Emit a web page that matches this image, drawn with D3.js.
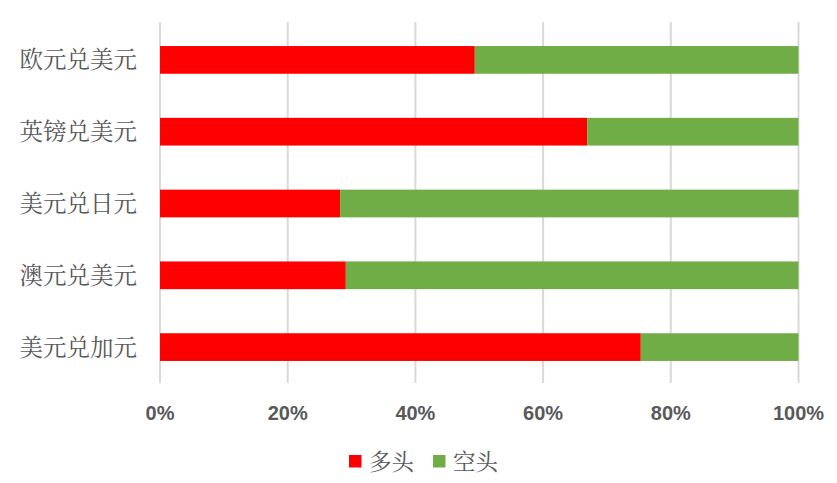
<!DOCTYPE html>
<html><head><meta charset="utf-8">
<script src="https://cdn.jsdelivr.net/npm/d3@7"></script>
<style>body{margin:0;background:#fff}</style>
</head><body>
<script>
const categories = ["欧元兑美元","英镑兑美元","美元兑日元","澳元兑美元","美元兑加元"];
const longValues = [49.3, 66.9, 28.2, 29.1, 75.3];
const shortValues = [50.7, 33.1, 71.8, 70.9, 24.7];
const seriesNames = ["多头","空头"];
const seriesColors = ["#FF0000","#70AD47"];
const tickValues = [0,20,40,60,80,100];

const W=837,H=483;
const svg=d3.select("body").append("svg").attr("width",W).attr("height",H);
const x=d3.scaleLinear().domain([0,100]).range([160,798.5]);
const y=d3.scaleBand().domain(categories).range([24,383]).paddingInner(0.614).paddingOuter(0.307);

// gridlines
svg.append("g").selectAll("line").data(tickValues).join("line")
  .attr("x1",d=>x(d)).attr("x2",d=>x(d)).attr("y1",22).attr("y2",383)
  .attr("stroke","#d9d9d9").attr("stroke-width",2);

const data=categories.map((c,i)=>({c,a:longValues[i],b:shortValues[i]}));
const g=svg.append("g");
g.selectAll(".r").data(data).join("rect")
  .attr("x",x(0)).attr("y",d=>y(d.c)).attr("width",d=>x(d.a)-x(0)).attr("height",y.bandwidth())
  .attr("fill",seriesColors[0]);
g.selectAll(".gr").data(data).join("rect")
  .attr("x",d=>x(d.a)).attr("y",d=>y(d.c)).attr("width",d=>x(d.a+d.b)-x(d.a)).attr("height",y.bandwidth())
  .attr("fill",seriesColors[1]);

// category labels
svg.append("g").selectAll("text").data(categories).join("text")
  .attr("x",137).attr("y",d=>y(d)+y.bandwidth()/2).attr("dy","0.36em")
  .attr("text-anchor","end").attr("fill","#595959")
  .style("font-family","'Noto Serif CJK SC','Noto Sans CJK SC',sans-serif").style("font-size","23.5px")
  .text(d=>d);

// x tick labels
svg.append("g").selectAll("text").data(tickValues).join("text")
  .attr("x",d=>x(d)).attr("y",420).attr("text-anchor","middle").attr("fill","#595959")
  .style("font-family","'Liberation Sans',Arial,sans-serif").style("font-weight","bold").style("font-size","20px")
  .text(d=>d+"%");

// legend
const lx=[349,433];
const lg=svg.append("g").selectAll("g").data(seriesNames).join("g");
lg.append("rect").attr("x",(d,i)=>lx[i]).attr("y",455).attr("width",12.5).attr("height",12.5)
  .attr("fill",(d,i)=>seriesColors[i]);
lg.append("text").attr("x",(d,i)=>lx[i]+20).attr("y",461.5).attr("dy","0.36em").attr("fill","#595959")
  .style("font-family","'Noto Serif CJK SC','Noto Sans CJK SC',sans-serif").style("font-size","22.5px")
  .text(d=>d);
</script>
</body></html>
